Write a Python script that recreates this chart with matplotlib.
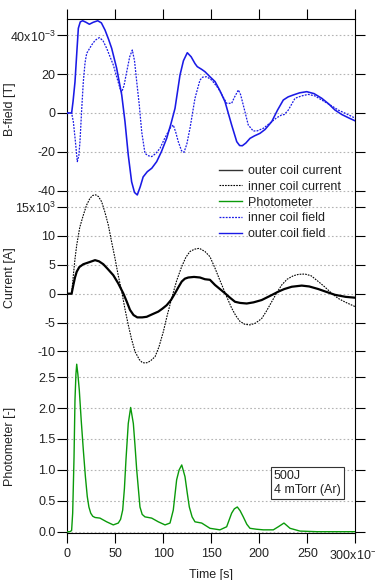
import matplotlib
matplotlib.use('Agg')
import matplotlib.pyplot as plt
from matplotlib.lines import Line2D
from matplotlib.ticker import FixedLocator, FixedFormatter

plt.rcParams['font.family'] = ['Liberation Sans', 'DejaVu Sans']
plt.rcParams['font.size'] = 9
plt.rcParams['mathtext.fontset'] = 'custom'
plt.rcParams['mathtext.rm'] = 'Liberation Sans'
plt.rcParams['mathtext.it'] = 'Liberation Sans:italic'

# --- data (time in ms) ---
# outer coil field [mT]
t_bout = [0, 4.5, 6, 8, 10, 11.5, 13.5, 16, 19.5, 23, 27, 31.7, 35.5, 39.3, 43, 46.2, 51.4, 56.7,
          60.1, 63.5, 67, 70, 72.9, 76, 79, 83.3, 88, 93.1, 98, 103.5, 108, 112.2, 117.4, 121, 125,
          129, 133, 135.4, 140, 143.4, 148.6, 153.9, 159, 164.3, 171.2, 176.5, 179.5, 182.3, 186,
          190.3, 195, 200.7, 206, 212.9, 219, 225, 230, 235.4, 242, 249.4, 257, 265, 272, 278.9,
          286, 293, 300]
b_out = [0, 0, 6, 16, 32, 43.7, 47, 47.6, 46.8, 45.8, 46.8, 47.6, 46.5, 42.8, 38, 33.4, 23.1, 9.3,
         -4.5, -21.7, -35.5, -41, -42.3, -38, -33, -30.3, -28.5, -25.1, -20, -13.1, -5.5, 2.4, 19.6,
         27, 31.1, 29, 25.5, 23.9, 22.5, 21.3, 18.7, 16.2, 11.5, 5.8, -6.2, -14.8, -16.8, -16.9,
         -15.5, -13.1, -11.8, -10.5, -8.5, -4.5, 1.5, 6.7, 8.3, 9.3, 10.4, 11.0, 10.0, 7.6, 4.8,
         1.5, -0.8, -2.5, -4.1]

# inner coil field [mT]
t_bin = [0, 4.5, 6.3, 8.5, 10.4, 12, 13.2, 15, 16.7, 18.5, 20.2, 25.4, 29, 33.3, 37, 41, 47.9, 54.9,
         56.7, 59, 61.9, 65, 67.7, 70, 72.3, 75, 77.5, 80.9, 84, 87.9, 92, 96.6, 101, 107, 110.4,
         113, 115.6, 119, 121.6, 124.5, 127.8, 133, 138.2, 141, 145.2, 150.4, 157.3, 166, 171.2,
         174, 178.2, 180.5, 183.3, 188.5, 193.7, 198, 204.2, 212.9, 218, 223.3, 226, 230.2, 237.2,
         244, 251, 258, 265, 275, 282.3, 291, 300]
b_in = [0, 0, -4.5, -15, -25.1, -22, -14.8, 2, 16.2, 26, 30.8, 35.1, 37.5, 38.9, 37.5, 33.4, 24.8,
        12.7, 10.8, 14, 21.3, 29, 32.5, 27, 16.2, 4, -9.7, -20.8, -22, -22.5, -21, -18.2, -13.5,
        -7.9, -6.2, -10, -14.8, -19.5, -20.3, -16, -7.9, 7.6, 17, 18.5, 18.7, 17, 12.7, 5.0, 5.0,
        8, 11.9, 9.5, 4.1, -6.2, -9.3, -9.2, -7.9, -4.5, -2.5, -1.0, -0.8, 1.5, 7.6, 8.8, 9.6, 8.8,
        6.7, 3.8, 1.5, -0.5, -2.7]

# outer coil current [kA]
t_iout = [0, 4.5, 6.3, 8, 9.8, 12.5, 16.7, 22, 28.9, 33, 37.5, 42, 47.9, 53, 58.3, 62, 65.3, 69,
          72.9, 78, 82.7, 88, 94.8, 99, 103.5, 108, 112.2, 116, 119.2, 122.5, 126, 132, 138.2,
          143.4, 148.6, 153.9, 159, 164.3, 169.5, 174.7, 180, 186.9, 194, 202.5, 211, 219.8, 226,
          233.8, 244.2, 252, 261.5, 270, 278.9, 290, 300]
i_out = [0, 0, 1.5, 2.8, 3.8, 4.6, 5.1, 5.4, 5.8, 5.6, 5.1, 4.3, 3.2, 1.8, 0.07, -1.4, -2.8, -3.7,
         -4.1, -4.1, -4.0, -3.6, -3.1, -2.6, -2.0, -1.1, 0.07, 1.2, 2.1, 2.6, 2.8, 2.9, 2.8, 2.5,
         2.4, 1.5, 0.8, 0.07, -0.7, -1.4, -1.6, -1.7, -1.5, -1.1, -0.4, 0.35, 0.8, 1.2, 1.4, 1.25,
         0.8, 0.3, -0.2, -0.55, -0.7]

# inner coil current [kA]
t_iin = [0, 4.5, 6.3, 8, 9.8, 13, 16.7, 20, 23.6, 26.5, 29.6, 32.5, 35.8, 39, 42.7, 46, 49.7, 53,
         56.7, 60, 63.5, 67, 70.5, 75, 78, 80.9, 84, 87.5, 91.4, 95.5, 100, 104, 108.7, 114, 119.2,
         123.5, 127.8, 132.5, 137.5, 143.4, 148.6, 153.9, 158, 162.5, 167, 171.2, 175.5, 179.9,
         185, 190.3, 196, 202.5, 207.5, 212.9, 218, 223.3, 229, 235.4, 241, 247.6, 254, 261.5, 268,
         275.4, 282, 290, 300]
i_in = [0, 0, 3.2, 6, 8.4, 11.5, 13.6, 15.3, 16.5, 17, 17.1, 16.8, 15.9, 14.2, 11.9, 9.1, 6.1, 3.2,
        0.35, -2.6, -5.4, -7.9, -10.0, -11.4, -11.9, -12.0, -11.9, -11.5, -10.9, -9.2, -6.6, -3.8,
        -0.8, 2.3, 4.7, 6.3, 7.3, 7.7, 7.85, 7.3, 6.4, 4.4, 2.7, 0.9, -0.9, -2.5, -3.8, -4.8, -5.3,
        -5.4, -5.1, -4.3, -3.0, -1.4, 0.1, 1.5, 2.5, 3.1, 3.35, 3.4, 3.1, 2.1, 1.2, 0.07, -0.8,
        -1.5, -2.25]

# photometer [-]
t_ph = [0, 2.8, 4.5, 5.6, 7, 8, 9, 9.8, 11, 12.5, 14.5, 16.7, 18.8, 20.8, 22.5, 24.4, 26.5, 28.9,
        34, 41, 47.9, 53.1, 55.5, 57.7, 59.5, 61.1, 63.5, 66, 68.8, 70.5, 72.3, 75.7, 78, 80.9,
        87.9, 94.8, 101.8, 107, 110.4, 113.9, 116.5, 119.2, 122.6, 125, 127.1, 130, 133, 140,
        148.6, 159, 166, 171.2, 174, 177.1, 180, 183.3, 187, 190.3, 197, 204.2, 214.6, 219.8,
        225.7, 232, 242.4, 260, 280, 300]
ph = [0, 0, 0.02, 0.3, 1.2, 2.13, 2.55, 2.71, 2.55, 2.29, 1.8, 1.32, 0.9, 0.57, 0.4, 0.3, 0.25,
      0.23, 0.22, 0.16, 0.11, 0.14, 0.2, 0.35, 0.7, 1.16, 1.75, 2.01, 1.75, 1.4, 1.0, 0.40, 0.28,
      0.24, 0.22, 0.16, 0.11, 0.14, 0.35, 0.84, 1.0, 1.08, 0.89, 0.62, 0.40, 0.24, 0.16, 0.14,
      0.055, 0.03, 0.08, 0.30, 0.37, 0.40, 0.34, 0.24, 0.12, 0.055, 0.04, 0.03, 0.03, 0.08, 0.14,
      0.055, 0.01, 0, 0, 0]

x_ticks = [0, 50, 100, 150, 200, 250, 300]
x_labels = ['0', '50', '100', '150', '200', '250', r'300x10$^{-3}$']
b_ticks = [-40, -20, 0, 20, 40]
b_labels = ['-40', '-20', '0', '20', r'40x10$^{-3}$']
i_ticks = [-10, -5, 0, 5, 10, 15]
i_labels = ['-10', '-5', '0', '5', '10', r'15x10$^{3}$']
p_ticks = [0.0, 0.5, 1.0, 1.5, 2.0, 2.5]
p_labels = ['0.0', '0.5', '1.0', '1.5', '2.0', '2.5']

BLUE = '#1a1ae6'
GREEN = '#0a9a0a'
TXT = '#222222'

W, H = 375.0, 580.0
L, R = 67.3, 355.3


def box(top, bottom):
    return [L / W, 1 - bottom / H, (R - L) / W, (bottom - top) / H]


fig = plt.figure(figsize=(W / 100, H / 100), dpi=100)

# frame with x axis
frame = fig.add_axes(box(19, 533))
frame.set_xlim(0, 300)
frame.set_ylim(0, 1)
frame.set_yticks([])
frame.xaxis.set_major_locator(FixedLocator(x_ticks))
frame.xaxis.set_major_formatter(FixedFormatter(x_labels))
frame.tick_params(axis='x', direction='out', length=7, width=0.8, top=True, bottom=True,
                  labelsize=9, labelcolor=TXT, pad=4)
for s in frame.spines.values():
    s.set_linewidth(0.8)
frame.set_xlabel('Time [s]', color=TXT, labelpad=4)


def data_axes(top, bottom, ylim, ticks, labels, ylabel):
    ax = fig.add_axes(box(top, bottom), sharex=frame)
    ax.patch.set_alpha(0)
    for s in ax.spines.values():
        s.set_visible(False)
    ax.set_ylim(ylim)
    ax.yaxis.set_major_locator(FixedLocator(ticks))
    ax.yaxis.set_major_formatter(FixedFormatter(labels))
    ax.tick_params(axis='y', direction='out', length=7, width=0.8, left=True, right=True,
                   labelsize=9, labelcolor=TXT, pad=1.5)
    ax.tick_params(axis='x', bottom=False, labelbottom=False)
    ax.yaxis.grid(True, color='#b4b4b4', linestyle=(0, (1.5, 2)), linewidth=0.8)
    ax.set_ylabel(ylabel, color=TXT)
    ax.yaxis.set_label_coords(-0.178, 0.5)
    return ax


ax_b = data_axes(19, 200, (-44.9, 48.5), b_ticks, b_labels, 'B-field [T]')
ax_i = data_axes(190, 365, (-12.34, 17.94), i_ticks, i_labels, 'Current [A]')
ax_p = data_axes(360, 533, (-0.021, 2.778), p_ticks, p_labels, 'Photometer [-]')

ax_b.plot(t_bin, b_in, color=BLUE, lw=0.9, ls=(0, (1.5, 1)))
ax_b.plot(t_bout, b_out, color=BLUE, lw=1.15)
ax_i.plot(t_iin, i_in, color='black', lw=0.8, ls=(0, (1.5, 1)))
ax_i.plot(t_iout, i_out, color='black', lw=1.6)
ax_p.plot(t_ph, ph, color=GREEN, lw=1.0)

handles = [
    Line2D([], [], color='#333333', lw=1.0),
    Line2D([], [], color='black', lw=0.8, ls=(0, (1.5, 1))),
    Line2D([], [], color=GREEN, lw=1.0),
    Line2D([], [], color=BLUE, lw=0.9, ls=(0, (1.5, 1))),
    Line2D([], [], color=BLUE, lw=1.0),
]
names = ['outer coil current', 'inner coil current', 'Photometer', 'inner coil field',
         'outer coil field']
fig.legend(handles, names, loc='upper left', bbox_to_anchor=(219 / W, 1 - 165 / H),
           frameon=False, fontsize=9, handlelength=1.8, handletextpad=0.55,
           labelspacing=0.3, borderpad=0, borderaxespad=0, labelcolor=TXT)

fig.text(274 / W, 1 - 470 / H, '500J\n4 mTorr (Ar)', va='top', ha='left', fontsize=9,
         color=TXT, linespacing=1.25,
         bbox=dict(boxstyle='square,pad=0.25', fc='white', ec='#333333', lw=0.8))

fig.savefig('out.png', dpi=100)
